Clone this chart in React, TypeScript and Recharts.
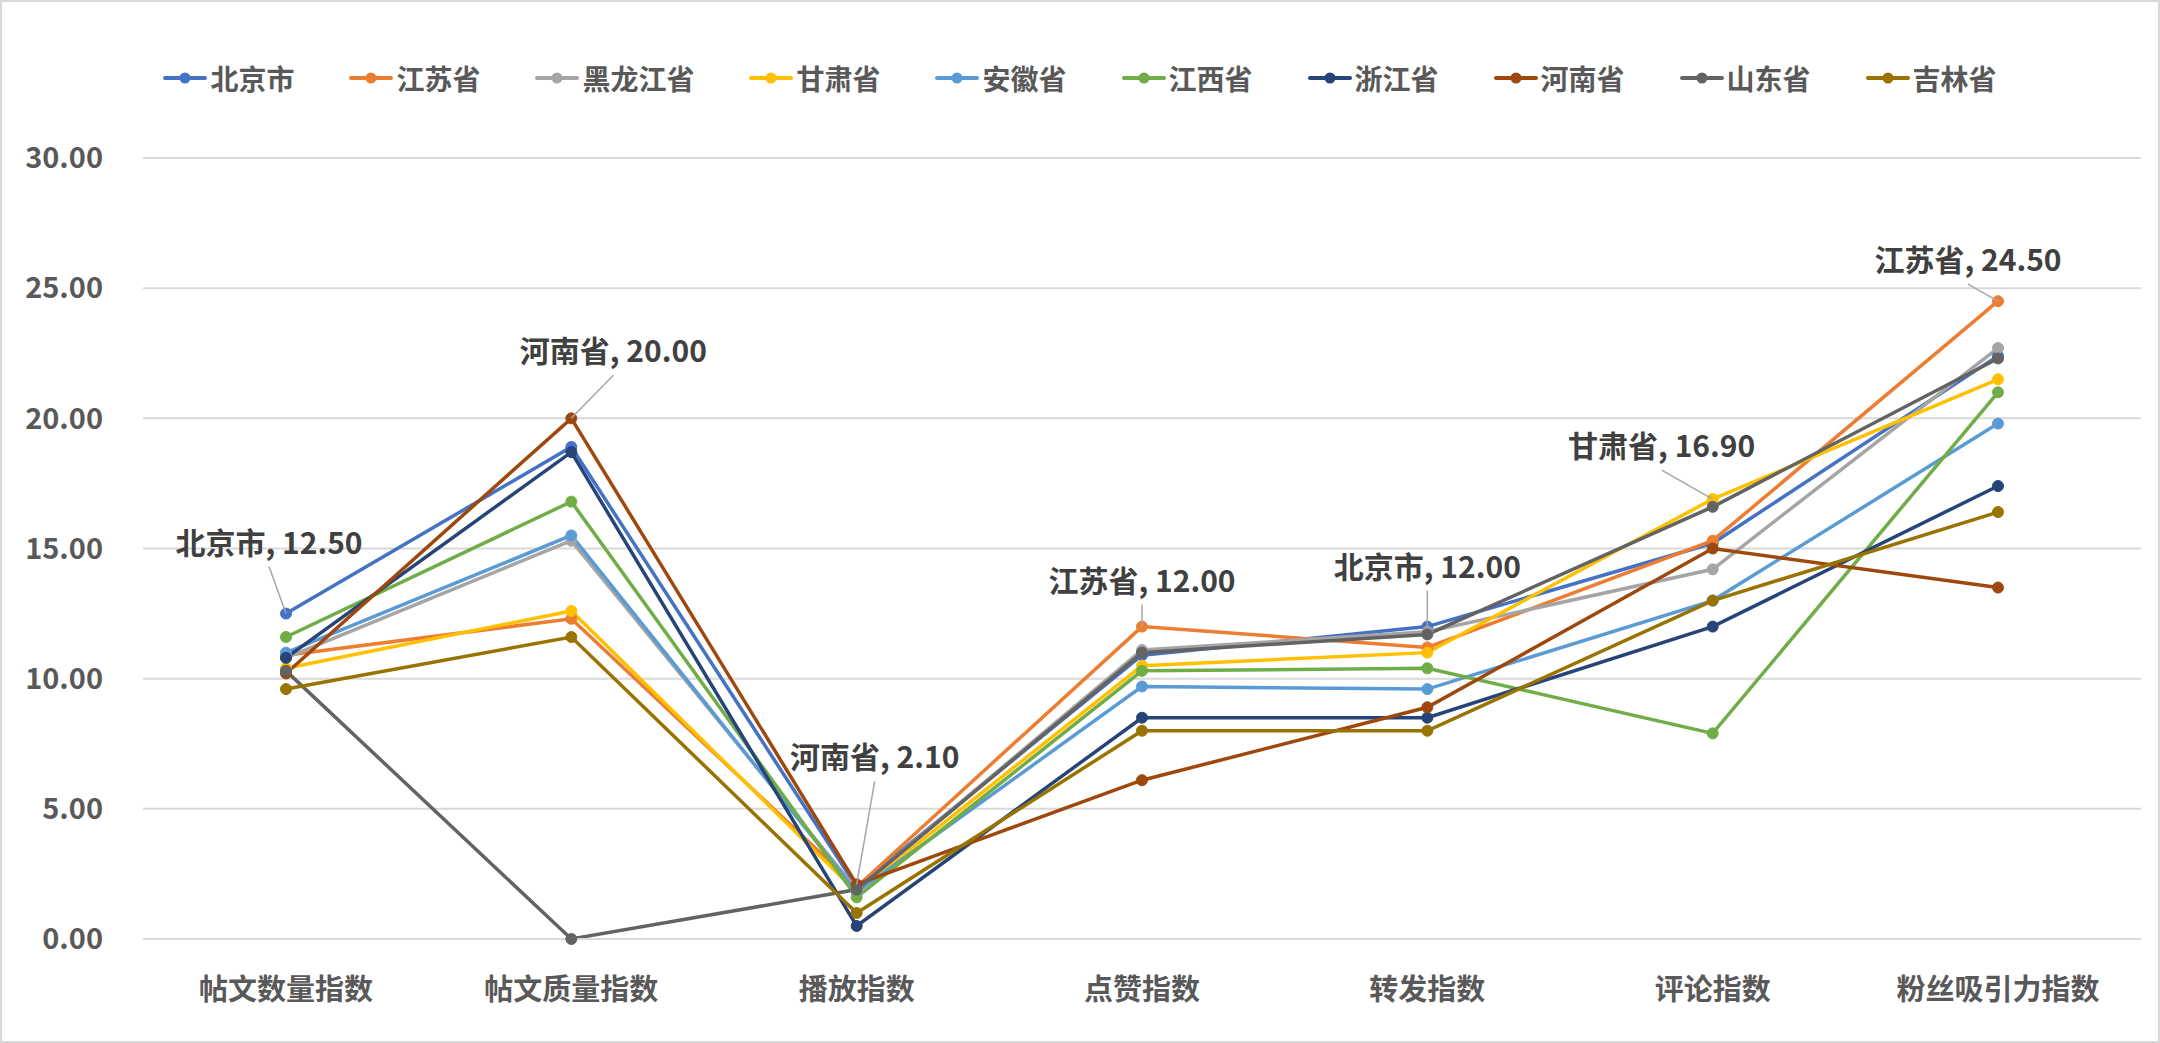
import React from "react";
import {
  LineChart,
  Line,
  XAxis,
  YAxis,
  CartesianGrid,
  Legend,
  LabelList,
} from "recharts";

const categories = [
  "帖文数量指数",
  "帖文质量指数",
  "播放指数",
  "点赞指数",
  "转发指数",
  "评论指数",
  "粉丝吸引力指数",
];

const beijing = [12.5, 18.9, 2.0, 10.9, 12.0, 15.2, 22.4];
const jiangsu = [10.9, 12.3, 2.0, 12.0, 11.2, 15.3, 24.5];
const heilongjiang = [10.8, 15.3, 1.9, 11.1, 11.8, 14.2, 22.7];
const gansu = [10.4, 12.6, 1.8, 10.5, 11.0, 16.9, 21.5];
const anhui = [11.0, 15.5, 1.8, 9.7, 9.6, 13.0, 19.8];
const jiangxi = [11.6, 16.8, 1.6, 10.3, 10.4, 7.9, 21.0];
const zhejiang = [10.8, 18.7, 0.5, 8.5, 8.5, 12.0, 17.4];
const henan = [10.2, 20.0, 2.1, 6.1, 8.9, 15.0, 13.5];
const shandong = [10.3, 0.0, 1.9, 11.0, 11.7, 16.6, 22.3];
const jilin = [9.6, 11.6, 1.0, 8.0, 8.0, 13.0, 16.4];

const yTicks = [0, 5, 10, 15, 20, 25, 30];

const series = [
  { name: "北京市", values: beijing, color: "#4472C4" },
  { name: "江苏省", values: jiangsu, color: "#ED7D31" },
  { name: "黑龙江省", values: heilongjiang, color: "#A5A5A5" },
  { name: "甘肃省", values: gansu, color: "#FFC000" },
  { name: "安徽省", values: anhui, color: "#5B9BD5" },
  { name: "江西省", values: jiangxi, color: "#70AD47" },
  { name: "浙江省", values: zhejiang, color: "#264478" },
  { name: "河南省", values: henan, color: "#9E480E" },
  { name: "山东省", values: shandong, color: "#636363" },
  { name: "吉林省", values: jilin, color: "#997300" },
];

// callouts: which point gets a label, and where the label sits relative to it
const callouts = [
  { name: "北京市", index: 0, dx: -17, dy: -73 },
  { name: "河南省", index: 1, dx: 42, dy: -69 },
  { name: "河南省", index: 2, dx: 18, dy: -129 },
  { name: "江苏省", index: 3, dx: 0, dy: -48 },
  { name: "北京市", index: 4, dx: 0, dy: -62 },
  { name: "甘肃省", index: 5, dx: -51, dy: -55 },
  { name: "江苏省", index: 6, dx: -30, dy: -43 },
];

const data = categories.map((c, i) => {
  const row: Record<string, string | number> = { name: c };
  series.forEach((s) => {
    row[s.name] = s.values[i];
  });
  return row;
});

const FONT = '"Noto Sans CJK SC", "Noto Sans", sans-serif';

function makeCallout(seriesName: string) {
  return (props: any) => {
    const { x, y, value, index } = props;
    const c = callouts.find((k) => k.name === seriesName && k.index === index);
    if (!c) return null;
    const lx = x + c.dx;
    const ly = y + c.dy;
    return (
      <g>
        <line x1={lx} y1={ly + 26} x2={x} y2={y} stroke="#A6A6A6" strokeWidth={1.5} />
        <text
          x={lx}
          y={ly}
          textAnchor="middle"
          dominantBaseline="central"
          fill="#404040"
          fontSize={30}
          fontWeight="bold"
          fontFamily={FONT}
        >
          {`${seriesName}, ${Number(value).toFixed(2)}`}
        </text>
      </g>
    );
  };
}

function LegendRow() {
  return (
    <div
      style={{
        display: "flex",
        justifyContent: "center",
        alignItems: "center",
        gap: 55,
        fontFamily: FONT,
        fontWeight: "bold",
        fontSize: 28,
        color: "#595959",
      }}
    >
      {series.map((s) => (
        <div key={s.name} style={{ display: "flex", alignItems: "center" }}>
          <svg width={44} height={14} style={{ marginRight: 3 }}>
            <line x1={2} y1={7} x2={42} y2={7} stroke={s.color} strokeWidth={4} strokeLinecap="round" />
            <circle cx={22} cy={7} r={5.5} fill={s.color} />
          </svg>
          <span>{s.name}</span>
        </div>
      ))}
    </div>
  );
}

export default function App() {
  return (
    <div style={{ position: "absolute", left: 0, top: 0, width: 2160, height: 1043, background: "#fff" }}>
      <LineChart
        width={2160}
        height={1043}
        data={data}
        margin={{ top: 158, right: 19, left: 0, bottom: 0 }}
        style={{ fontFamily: FONT }}
      >
        <CartesianGrid vertical={false} stroke="#D9D9D9" strokeWidth={2} />
        <XAxis
          dataKey="name"
          height={104}
          padding={{ left: 143, right: 143 }}
          axisLine={{ stroke: "#D9D9D9", strokeWidth: 2 }}
          tickLine={false}
          tickSize={0}
          tickMargin={40}
          interval={0}
          tick={{ fill: "#595959", fontSize: 29, fontWeight: "bold", fontFamily: FONT }}
        />
        <YAxis
          width={143}
          domain={[0, 30]}
          ticks={yTicks}
          axisLine={false}
          tickLine={false}
          tickSize={0}
          tickMargin={40}
          tickFormatter={(v: number) => v.toFixed(2)}
          tick={{ fill: "#595959", fontSize: 29, fontWeight: "bold", fontFamily: FONT }}
        />
        <Legend
          verticalAlign="middle"
          layout="horizontal"
          wrapperStyle={{ top: 58, left: 0, width: 2160 }}
          content={() => <LegendRow />}
        />
        {series.map((s) => (
          <Line
            key={s.name}
            type="linear"
            dataKey={s.name}
            stroke={s.color}
            strokeWidth={3.5}
            dot={{ r: 5.5, fill: s.color, stroke: s.color, strokeWidth: 1 }}
            activeDot={false}
            isAnimationActive={false}
          >
            <LabelList dataKey={s.name} content={makeCallout(s.name)} />
          </Line>
        ))}
      </LineChart>
      <div
        style={{
          position: "absolute",
          inset: 0,
          border: "2px solid #D9D9D9",
          pointerEvents: "none",
        }}
      />
    </div>
  );
}
